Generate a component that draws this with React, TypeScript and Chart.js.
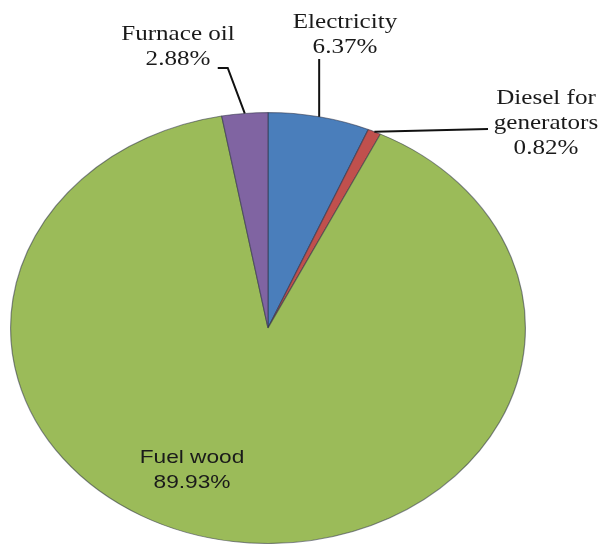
import React, { useEffect, useRef } from "react";
import { Chart, registerables } from "chart.js";

Chart.register(...registerables);

// ---- data ----
const categories = ["Electricity", "Diesel for generators", "Fuel wood", "Furnace oil"];
const values = [6.37, 0.82, 89.93, 2.88];
const colors = ["#4A7EBB", "#C0504D", "#9BBB59", "#8064A2"];
const labelLines = [["Electricity"], ["Diesel for", "generators"], ["Fuel wood"], ["Furnace oil"]];

// ---- layout/style ----
const SX = 258 / 216; // horizontal stretch making the pie an ellipse
const SERIF = '21px "Liberation Serif", "Times New Roman", serif';
const SANS = '19px "Liberation Sans", Arial, sans-serif';
const LINE_H = 25;
// label text blocks: centre x, first baseline y, font
const labelPos = [
  { x: 345, y: 28, font: SERIF },
  { x: 546, y: 104, font: SERIF },
  { x: 192, y: 463, font: SANS },
  { x: 178, y: 40, font: SERIF },
];

const stretchPlugin = {
  id: "stretch",
  beforeDatasetsDraw(chart: any) {
    const ctx = chart.ctx;
    const arc = chart.getDatasetMeta(0).data[0];
    ctx.save();
    ctx.translate(arc.x, 0);
    ctx.scale(SX, 1);
    ctx.translate(-arc.x, 0);
  },
  afterDatasetsDraw(chart: any) {
    chart.ctx.restore();
  },
};

function anchor(arc: any) {
  const mid = (arc.startAngle + arc.endAngle) / 2;
  return {
    x: arc.x + SX * arc.outerRadius * Math.cos(mid),
    y: arc.y + arc.outerRadius * Math.sin(mid),
  };
}

const labelPlugin = {
  id: "labels",
  afterDraw(chart: any) {
    const ctx = chart.ctx;
    const arcs = chart.getDatasetMeta(0).data;
    ctx.save();
    ctx.strokeStyle = "#111";
    ctx.lineWidth = 2;
    {
      const a = anchor(arcs[0]);
      ctx.beginPath();
      ctx.moveTo(a.x, a.y);
      ctx.lineTo(a.x, labelPos[0].y + LINE_H + 6);
      ctx.stroke();
    }
    {
      const a = anchor(arcs[1]);
      ctx.beginPath();
      ctx.moveTo(a.x, a.y);
      ctx.lineTo(labelPos[1].x - 58, labelPos[1].y + LINE_H);
      ctx.stroke();
    }
    {
      const a = anchor(arcs[3]);
      const ly = labelPos[3].y + LINE_H + 3;
      ctx.beginPath();
      ctx.moveTo(a.x, a.y);
      ctx.lineTo(a.x - 17, ly);
      ctx.lineTo(a.x - 27, ly);
      ctx.stroke();
    }
    ctx.fillStyle = "#1a1a1a";
    ctx.textAlign = "center";
    ctx.textBaseline = "alphabetic";
    labelPos.forEach((p, i) => {
      ctx.font = p.font;
      const lines = [...labelLines[i], values[i].toFixed(2) + "%"];
      lines.forEach((t, j) => {
        ctx.save();
        ctx.translate(p.x, p.y + j * LINE_H);
        ctx.scale(SX, 1);
        ctx.fillText(t, 0, 0);
        ctx.restore();
      });
    });
    ctx.restore();
  },
};

export default function App() {
  const ref = useRef<HTMLCanvasElement>(null);
  useEffect(() => {
    const chart = new Chart(ref.current!, {
      type: "pie",
      data: {
        labels: categories,
        datasets: [
          {
            data: values,
            backgroundColor: colors,
            borderColor: "rgba(45,50,70,0.55)",
            borderWidth: 1,
            clip: false,
          } as any,
        ],
      },
      options: {
        responsive: false,
        animation: false,
        layout: { padding: { left: 52, right: 119, top: 112, bottom: 0 } },
        plugins: { legend: { display: false }, tooltip: { enabled: false } },
      },
      plugins: [stretchPlugin, labelPlugin],
    });
    return () => chart.destroy();
  }, []);
  return (
    <div style={{ position: "absolute", left: 0, top: 0, width: 603, height: 544, background: "#fff" }}>
      <canvas ref={ref} width={603} height={544} style={{ display: "block" }} />
    </div>
  );
}
